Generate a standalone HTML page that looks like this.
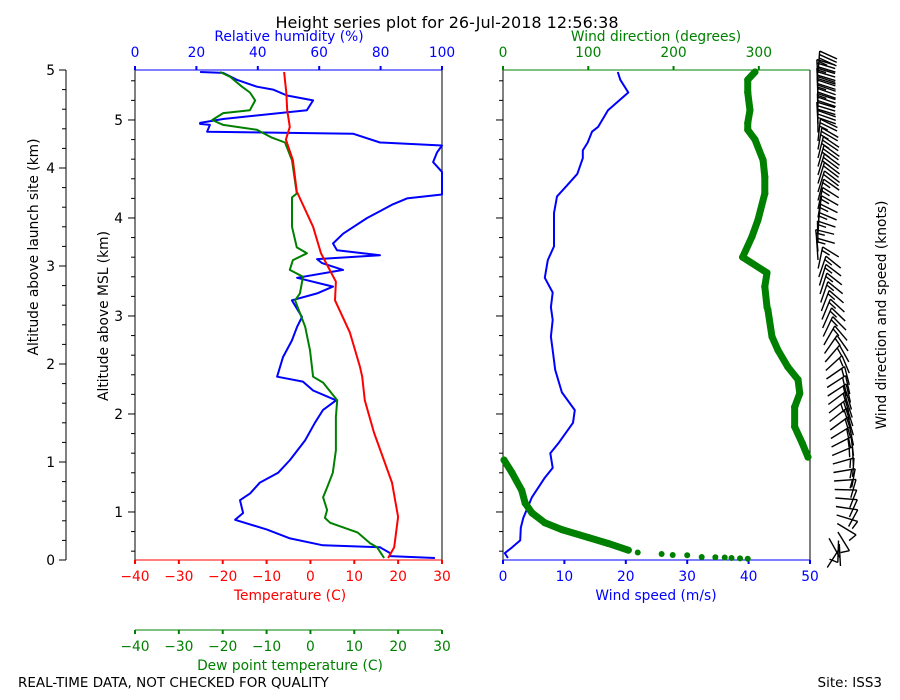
<!DOCTYPE html>
<html><head><meta charset="utf-8"><style>
body{margin:0;background:#fff}
svg{display:block;font-family:"DejaVu Sans","Liberation Sans",sans-serif}
</style></head><body>
<svg id="chart" width="900" height="700" viewBox="0 0 900 700">
<text x="447" y="28" font-size="16" text-anchor="middle">Height series plot for 26-Jul-2018 12:56:38</text>
<g id="g"></g>
<text x="18" y="687" font-size="13.5">REAL-TIME DATA, NOT CHECKED FOR QUALITY</text>
<text x="882" y="687" font-size="13.5" text-anchor="end">Site: ISS3</text>
</svg>
<script>
// Data (heights in km above launch site)
const tempH = [0.02,0.13,0.44,0.79,1.30,1.63,1.87,1.97,2.32,2.65,2.84,3.13,3.40,3.76,4.08,4.29,4.42,4.59,4.77,4.98];
const tempV = [17.7,19.1,20.0,18.6,14.5,12.4,11.8,11.3,9.0,5.6,5.8,2.4,0.6,-3.1,-4.0,-5.6,-4.7,-5.3,-5.5,-6.0];
const dewH = [0.02,0.13,0.17,0.28,0.38,0.43,0.51,0.64,0.74,0.89,1.12,1.46,1.63,1.81,1.87,2.14,2.38,2.52,2.65,2.72,2.89,2.96,3.06,3.13,3.19,3.40,3.70,3.74,4.08,4.26,4.31,4.39,4.44,4.49,4.56,4.59,4.69,4.77,4.83,4.93,4.98];
const dewV = [16.8,15.2,13.6,10.8,4.5,3.3,3.8,2.9,3.8,5.1,5.8,5.8,6.1,2.9,0.6,-0.1,-1.2,-2.4,-3.5,-2.4,-1.7,-4.7,-4.0,-0.8,-3.1,-4.2,-4.2,-3.1,-4.2,-5.8,-8.8,-12.2,-19.9,-22.4,-19.9,-13.8,-12.6,-13.8,-15.6,-18.3,-20.6];
const rhH = [0.02,0.04,0.07,0.13,0.15,0.22,0.31,0.41,0.48,0.61,0.68,0.79,0.89,1.02,1.22,1.40,1.53,1.63,1.73,1.82,1.87,2.07,2.24,2.38,2.48,2.65,2.72,2.79,2.88,2.96,3.03,3.07,3.11,3.16,3.23,3.33,3.49,3.63,3.69,3.73,3.96,4.06,4.16,4.23,4.26,4.35,4.37,4.44,4.45,4.46,4.50,4.59,4.69,4.74,4.80,4.83,4.90,4.97,4.98];
const rhV = [97.7,83.1,83.1,79.8,61.2,50.5,43.0,32.6,35.2,34.2,37.5,40.7,46.6,50.5,55.4,58.6,61.2,65.5,58.0,54.7,46.3,48.2,51.1,52.8,54.4,51.1,59.3,64.5,52.8,67.8,60.9,59.3,79.8,65.8,64.5,67.8,75.6,84.0,88.6,100,100,97.1,98.4,100,79.8,71.0,23.5,24.4,21.2,21.2,28.7,56.0,58.0,49.5,45.0,39.7,33.2,28.7,21.2];
const wsH = [0.02,0.07,0.13,0.20,0.33,0.43,0.64,0.84,0.94,1.09,1.19,1.40,1.53,1.71,1.94,2.14,2.28,2.45,2.58,2.73,2.88,3.06,3.20,3.34,3.54,3.71,3.82,3.94,4.10,4.18,4.26,4.37,4.42,4.59,4.77,4.90,4.98];
const wsV = [0.8,0.3,1.5,2.8,2.9,3.3,4.7,6.8,8.1,7.7,9.0,11.4,11.7,9.6,8.5,8.1,7.8,8.1,7.8,8.1,6.8,7.3,8.3,8.3,8.3,8.8,10.4,12.1,13.0,13.0,13.8,14.5,15.5,17.1,20.4,19.1,18.7];
const wdH = [0.013,0.017,0.020,0.026,0.028,0.031,0.048,0.051,0.061,0.077,0.10,0.17,0.23,0.31,0.38,0.48,0.58,0.71,0.89,1.02,1.05,1.19,1.36,1.56,1.70,1.84,1.97,2.14,2.28,2.55,2.58,2.79,2.93,3.09,3.30,3.47,3.74,3.91,4.08,4.29,4.39,4.46,4.59,4.77,4.90,4.98];
const wdV = [287,278,268,260,249,233,216,199,186,158,147,123,100,69,49,34,26,22,10.6,1.2,357.6,351,342,342,348,346,334,322.5,315.4,310.7,309.6,307,309.6,281,292,299,307,307,305,295.5,287,287,289.6,287,287,295.5];
const hTicks = [0,1,2,3,4,5];
const mslTicks = [1,2,3,4,5];
const tTicks = [-40,-30,-20,-10,0,10,20,30];
const rhTicks = [0,20,40,60,80,100];
const wsTicks = [0,10,20,30,40,50];
const wdTicks = [0,100,200,300];

const NS="http://www.w3.org/2000/svg", G=document.getElementById('g');
const TOP=70,BOT=560,L1=135,R1=442,L2=503,R2=810,FS=13.8;
const yH=h=>BOT-(h/5)*(BOT-TOP);
const yM=m=>yH(m-0.51);
const xT=t=>L1+(t+40)/70*(R1-L1);
const xRH=r=>L1+r/100*(R1-L1);
const xWS=s=>L2+s/50*(R2-L2);
const xWD=d=>L2+d/360*(R2-L2);
function el(tag,a,p){const e=document.createElementNS(NS,tag);for(const k in a)e.setAttribute(k,a[k]);(p||G).appendChild(e);return e;}
function txt(x,y,s,a){const e=el('text',Object.assign({x:x,y:y,'font-size':FS},a||{}));e.textContent=s;return e;}

let ax=el('g',{});


el('line',{x1:66,y1:TOP,x2:66,y2:BOT,stroke:'#000'},ax);
for(let i=0;i<=25;i++){const y=yH(i*0.2);el('line',{x1:i%5?62:59,y1:y,x2:66,y2:y,stroke:'#000'},ax);}
hTicks.forEach(v=>{ax.appendChild(txt(55,yH(v)+5,String(v),{'text-anchor':'end'}));});
let lb=txt(0,0,'Altitude above launch site (km)',{'text-anchor':'middle',transform:'translate(38,247) rotate(-90)'});



ax=el('g',{});


for(let m=0.6;m<=5.5;m+=0.2){const y=yM(m);if(y<TOP-0.5||y>BOT+0.5)continue;const maj=Math.abs(m-Math.round(m))<0.01;el('line',{x1:maj?128:131,y1:y,x2:L1,y2:y,stroke:'#000'},ax);}
mslTicks.forEach(v=>{ax.appendChild(txt(123,yM(v)+5,String(v),{'text-anchor':'end'}));});
lb=txt(0,0,'Altitude above MSL (km)',{'text-anchor':'middle',transform:'translate(108,316) rotate(-90)'});



el('line',{x1:L1,y1:TOP,x2:L1,y2:BOT,stroke:'#000'});
el('line',{x1:R1,y1:TOP,x2:R1,y2:BOT,stroke:'#000'});
ax=el('g',{});


el('line',{x1:L1,y1:BOT,x2:R1,y2:BOT,stroke:'red'},ax);
tTicks.forEach(v=>{el('line',{x1:xT(v),y1:BOT,x2:xT(v),y2:BOT+4,stroke:'red','stroke-width':2},ax);ax.appendChild(txt(xT(v),BOT+21,String(v).replace('-','\u2212'),{'text-anchor':'middle',fill:'red'}));});
ax.appendChild(txt(290,BOT+40,'Temperature (C)',{'text-anchor':'middle',fill:'red'}));
ax=el('g',{});


el('line',{x1:L1,y1:630,x2:R1,y2:630,stroke:'green'},ax);
tTicks.forEach(v=>{el('line',{x1:xT(v),y1:630,x2:xT(v),y2:634,stroke:'green','stroke-width':2},ax);ax.appendChild(txt(xT(v),651,String(v).replace('-','\u2212'),{'text-anchor':'middle',fill:'green'}));});
ax.appendChild(txt(290,670,'Dew point temperature (C)',{'text-anchor':'middle',fill:'green'}));
ax=el('g',{});


el('line',{x1:L1,y1:TOP,x2:R1,y2:TOP,stroke:'blue'},ax);
rhTicks.forEach(v=>{el('line',{x1:xRH(v),y1:TOP,x2:xRH(v),y2:TOP-4,stroke:'blue','stroke-width':2},ax);ax.appendChild(txt(xRH(v),TOP-13,String(v),{'text-anchor':'middle',fill:'blue'}));});
ax.appendChild(txt(289,41,'Relative humidity (%)',{'text-anchor':'middle',fill:'blue'}));

function line(H,V,fx,col,w,name){const p=H.map((h,i)=>fx(V[i]).toFixed(1)+','+yH(h).toFixed(1)).join(' ');const e=el('polyline',{points:p,fill:'none',stroke:col,'stroke-width':w,'stroke-linejoin':'round'});}
line(rhH,rhV,xRH,'blue',2,'humidity-line');
line(dewH,dewV,xT,'green',2,'dewpoint-line');
line(tempH,tempV,xT,'red',2,'temperature-line');

el('line',{x1:L2,y1:TOP,x2:L2,y2:BOT,stroke:'#000'});
el('line',{x1:R2,y1:TOP,x2:R2,y2:BOT,stroke:'#000'});
for(let m=0.6;m<=5.5;m+=0.2){const y=yM(m);if(y<TOP-0.5||y>BOT+0.5)continue;const maj=Math.abs(m-Math.round(m))<0.01;el('line',{x1:maj?496:499,y1:y,x2:L2,y2:y,stroke:'#000'});}
ax=el('g',{});


el('line',{x1:L2,y1:BOT,x2:R2,y2:BOT,stroke:'blue'},ax);
wsTicks.forEach(v=>{el('line',{x1:xWS(v),y1:BOT,x2:xWS(v),y2:BOT+4,stroke:'blue','stroke-width':2},ax);ax.appendChild(txt(xWS(v),BOT+21,String(v),{'text-anchor':'middle',fill:'blue'}));});
ax.appendChild(txt(656,BOT+40,'Wind speed (m/s)',{'text-anchor':'middle',fill:'blue'}));
ax=el('g',{});


el('line',{x1:L2,y1:TOP,x2:R2,y2:TOP,stroke:'green'},ax);
wdTicks.forEach(v=>{el('line',{x1:xWD(v),y1:TOP,x2:xWD(v),y2:TOP-4,stroke:'green','stroke-width':2},ax);ax.appendChild(txt(xWD(v),TOP-13,String(v),{'text-anchor':'middle',fill:'green'}));});
ax.appendChild(txt(656,41,'Wind direction (degrees)',{'text-anchor':'middle',fill:'green'}));

line(wsH,wsV,xWS,'blue',2,'wind-speed-line');
const wd=el('g',{});


for(let i=1;i<wdH.length;i++){if(Math.abs(wdV[i]-wdV[i-1])>180)continue;if(wdH[i-1]<0.09)continue;
el('line',{x1:xWD(wdV[i-1]),y1:yH(wdH[i-1]),x2:xWD(wdV[i]),y2:yH(wdH[i]),stroke:'green','stroke-width':7,'stroke-linecap':'round'},wd);}
wdH.forEach((h,i)=>el('circle',{cx:xWD(wdV[i]),cy:yH(h),r:h<0.09?3:3.5,fill:'green'},wd));

function interp(H,V,h){for(let i=1;i<H.length;i++){if(h<=H[i]){const f=(h-H[i-1])/(H[i]-H[i-1]);return V[i-1]+f*(V[i]-V[i-1]);}}return V[V.length-1];}
const bg=el('g',{stroke:'#000','stroke-width':1.4,fill:'none'});


for(let y=566;y>=66;y-=8.5){const h=(BOT-y)/(BOT-TOP)*5;const s=interp(wsH,wsV,Math.max(0.02,h));const d=interp(wdH,wdV,Math.max(0.013,h));
 const kt=s*1.944;const ox=818+Math.max(0,(1-h/3))*22;
 const a=(d-290)*Math.PI/180;const L=22;const ux=Math.sin(a),uy=-Math.cos(a);
 const tx=ox+ux*L,ty=y+uy*L;el('line',{x1:ox,y1:y,x2:tx,y2:ty},bg);
 let n=Math.round(kt/5),k=0;const fa=a+Math.PI/2+0.35;const px=Math.sin(fa),py=-Math.cos(fa);
 while(n>0){const full=n>=2;const len=full?19:9;const bx=tx-ux*k*3.5,by=ty-uy*k*3.5;
  el('line',{x1:bx,y1:by,x2:bx+px*len,y2:by+py*len},bg);n-=full?2:1;k++;}
}
lb=txt(0,0,'Wind direction and speed (knots)',{'text-anchor':'middle',transform:'translate(886,315) rotate(-90)'});


</script>
</body></html>
